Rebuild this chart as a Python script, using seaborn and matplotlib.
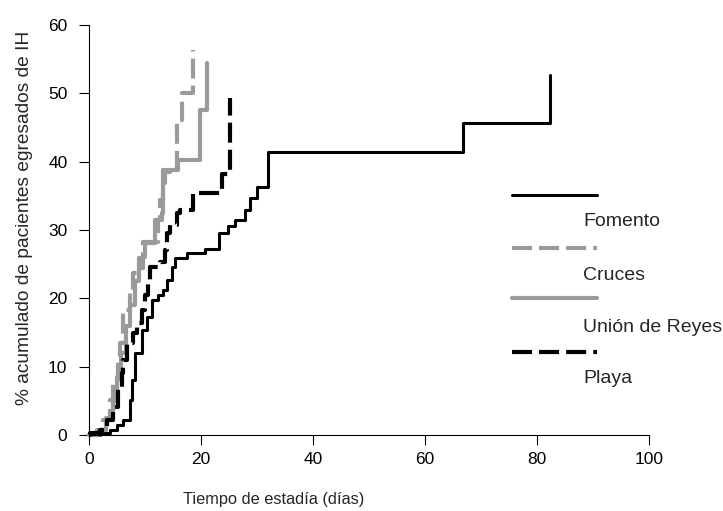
import numpy as np
import pandas as pd
import seaborn as sns
import matplotlib.pyplot as plt

# Datos (días, % acumulado), curvas escalonadas
fomento_x = [0, 2.0, 3.7, 5.0, 6.1, 7.3, 7.7, 8.2, 9.5, 10.4, 11.3, 12.3, 13.2, 13.9, 14.8, 15.4,
             17.5, 20.7, 23.2, 24.8, 26.1, 27.9, 28.8, 30.0, 32.0, 66.8, 82.3]
fomento_y = [0, 0.3, 0.7, 1.5, 2.2, 5.1, 8.0, 12.0, 15.4, 17.3, 19.8, 20.5, 21.2, 22.7, 24.6, 25.9,
             26.6, 27.2, 29.5, 30.6, 31.5, 33.0, 34.7, 36.3, 41.4, 45.7, 52.7]

cruces_x = [0, 1.4, 2.5, 3.7, 4.3, 5.2, 5.5, 6.1, 7.3, 7.9, 9.0, 9.6, 12.3, 12.7, 13.2, 15.7, 16.6, 18.6]
cruces_y = [0, 0.7, 2.2, 5.1, 8.0, 11.4, 13.5, 18.3, 21.0, 23.7, 25.9, 28.3, 31.5, 34.4, 38.8, 46.1, 50.0, 56.4]

union_x = [0, 1.8, 3.0, 4.2, 5.0, 5.8, 6.6, 7.3, 8.2, 9.0, 9.6, 10.0, 11.8, 13.0, 13.2, 13.6, 14.5,
           15.9, 19.8, 21.1]
union_y = [0, 0.7, 2.5, 5.0, 8.5, 12.0, 16.0, 19.0, 22.5, 24.5, 26.0, 28.1, 31.5, 32.5, 36.9, 38.5, 38.8,
           40.2, 47.6, 54.4]

playa_x = [0, 0.2, 2.0, 3.2, 4.3, 5.2, 5.9, 6.1, 6.8, 7.9, 8.6, 9.5, 10.0, 10.5, 10.9, 12.7, 13.6, 13.9,
           14.5, 15.7, 16.25, 18.6, 23.75, 25.2]
playa_y = [0, 0.3, 0.7, 2.2, 4.1, 7.0, 9.1, 11.0, 13.5, 14.9, 16.4, 18.3, 20.5, 22.7, 24.6, 25.3, 27.1, 29.6,
           30.7, 32.5, 32.9, 35.4, 38.2, 49.3]

nombres = ["Fomento", "Cruces", "Unión de Reyes", "Playa"]
series = [(fomento_x, fomento_y), (cruces_x, cruces_y), (union_x, union_y), (playa_x, playa_y)]

gris = "#9a9a9a"
estilos = {
    "Fomento": dict(color="black", lw=2.2, ls="-"),
    "Cruces": dict(color=gris, lw=3.0, ls=(0, (4.8, 1.7))),
    "Unión de Reyes": dict(color=gris, lw=3.0, ls="-"),
    "Playa": dict(color="black", lw=3.0, ls=(0, (4.8, 1.7))),
}

sns.set_style("ticks")
plt.rcParams["font.family"] = ["Liberation Sans", "DejaVu Sans"]

fig = plt.figure(figsize=(7.23, 5.11), dpi=100)
ax = fig.add_axes([89 / 723, 76 / 511, 560 / 723, 410 / 511])

for nombre, (xs, ys) in zip(nombres, series):
    df = pd.DataFrame({"dias": xs, "pct": ys})
    st = estilos[nombre]
    sns.lineplot(data=df, x="dias", y="pct", ax=ax, estimator=None, sort=False,
                 drawstyle="steps-post", color=st["color"], linewidth=st["lw"],
                 linestyle=st["ls"], clip_on=False)

ax.set_xlim(0, 100)
ax.set_ylim(0, 60)
ax.set_xticks(np.arange(0, 101, 20))
ax.set_yticks(np.arange(0, 61, 10))
ax.tick_params(direction="out", length=7.5, width=0.8, labelsize=12.5, colors="black")
ax.tick_params(axis="x", pad=5)
ax.tick_params(axis="y", pad=8)
for s in ["left", "bottom"]:
    ax.spines[s].set_linewidth(0.8)
    ax.spines[s].set_color("black")
sns.despine(ax=ax)

ax.set_xlabel("Tiempo de estadía (días)", fontsize=11.8, labelpad=16)
ax.xaxis.set_label_coords(0.33, -0.138)
ax.set_ylabel("% acumulado de pacientes egresados de IH", fontsize=13.8, labelpad=4)
ax.yaxis.set_label_coords(-0.1, 0.529)

# Leyenda: línea arriba, texto debajo a la derecha
ley_linea_y = [0.585, 0.456, 0.334, 0.202]
ley_texto_y = [0.520, 0.390, 0.261, 0.139]
for nombre, ly, ty in zip(nombres, ley_linea_y, ley_texto_y):
    st = estilos[nombre]
    ax.plot([0.755, 0.908], [ly, ly], transform=ax.transAxes, color=st["color"],
            linewidth=st["lw"], linestyle=st["ls"], clip_on=False)
    ax.text(0.882, ty, nombre, transform=ax.transAxes, fontsize=14, va="center", ha="left")

fig.savefig("out.png", dpi=100)
